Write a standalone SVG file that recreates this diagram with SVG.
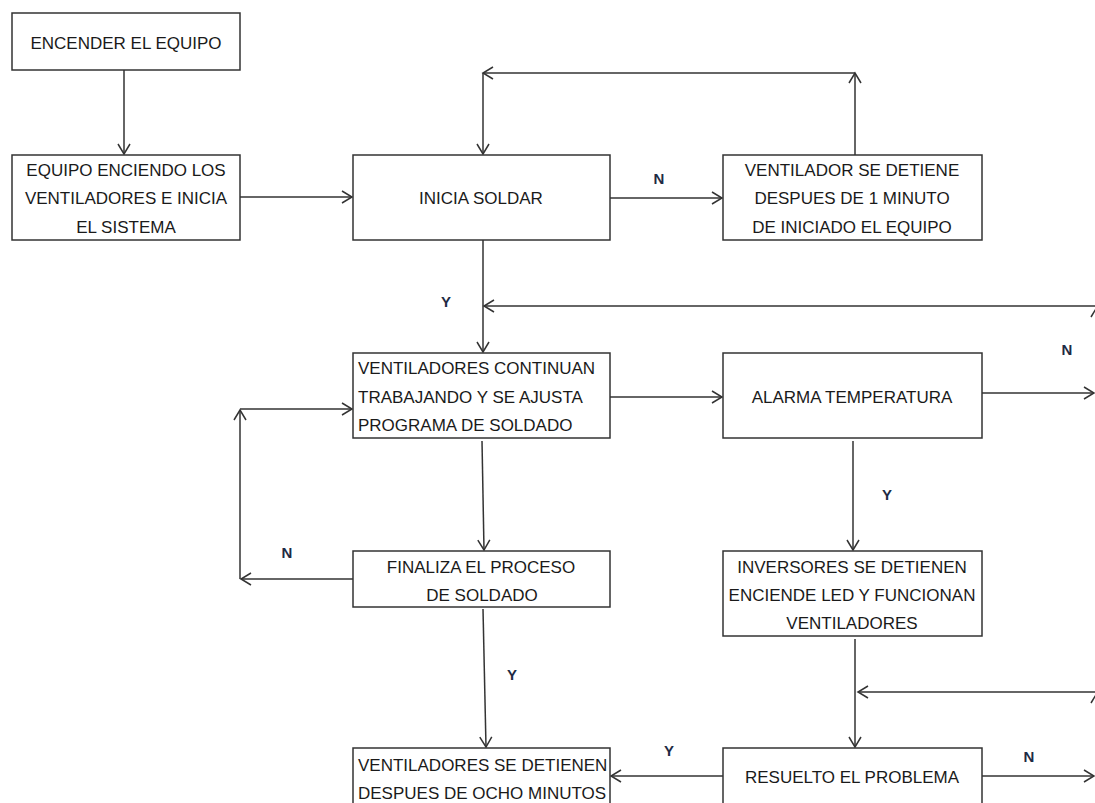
<svg xmlns="http://www.w3.org/2000/svg" width="1095" height="803" viewBox="0 0 1095 803">
<defs>
<style>
.box{fill:#fff;stroke:#333;stroke-width:1.5}
.t{font-family:"Liberation Sans",Arial,sans-serif;font-size:17px;fill:#1a1a1a}
.c{text-anchor:middle}
.lbl{font-family:"Liberation Sans",Arial,sans-serif;font-size:15px;font-weight:bold;fill:#1f2a44;text-anchor:middle}
.ln{fill:none;stroke:#333;stroke-width:1.5;marker-end:url(#ah)}
</style>
<marker id="ah" viewBox="-12 -8 14 16" markerWidth="14" markerHeight="16" refX="0" refY="0" markerUnits="userSpaceOnUse" orient="auto">
<path d="M-10,-6 L0,0 L-10,6" fill="none" stroke="#333" stroke-width="1.5"/>
</marker>
</defs>
<rect width="1095" height="803" fill="#fff"/>
<g id="connectors">
<path class="ln" d="M124,70 L124,154"/>
<path class="ln" d="M240,197 L352,197"/>
<path class="ln" d="M610,198 L722,198"/>
<path class="ln" d="M855,155 L855,73"/>
<path class="ln" d="M855,73 L483,73"/>
<path class="ln" d="M483,73 L483,154"/>
<path class="ln" d="M483,240 L483,352"/>
<path class="ln" d="M1095,306 L484,306"/>
<path class="ln" d="M1097,400 L1097,307"/>
<path class="ln" d="M610,397 L722,397"/>
<path class="ln" d="M982,393 L1094,393"/>
<path class="ln" d="M482,441 L484,550"/>
<path class="ln" d="M853,441 L853,550"/>
<path class="ln" d="M353,579 L241,579"/>
<path class="ln" d="M240,579 L240,410"/>
<path class="ln" d="M240,409 L352,409"/>
<path class="ln" d="M483,609 L486,747"/>
<path class="ln" d="M855,639 L855,747"/>
<path class="ln" d="M1095,692 L858,692"/>
<path class="ln" d="M1097,790 L1097,693"/>
<path class="ln" d="M723,776 L611,776"/>
<path class="ln" d="M982,776 L1094,776"/>
<text class="lbl" x="659" y="184">N</text>
<text class="lbl" x="446" y="307">Y</text>
<text class="lbl" x="1067" y="355">N</text>
<text class="lbl" x="887" y="500">Y</text>
<text class="lbl" x="287" y="558">N</text>
<text class="lbl" x="512" y="680">Y</text>
<text class="lbl" x="669" y="756">Y</text>
<text class="lbl" x="1029" y="762">N</text>
</g>
<g id="n1"><rect class="box" x="12" y="13" width="228" height="57"/><text class="t c" x="126" y="49">ENCENDER EL EQUIPO</text></g>
<g id="n2"><rect class="box" x="12" y="155" width="228" height="85"/>
<text class="t c" x="126" y="176">EQUIPO ENCIENDO LOS</text>
<text class="t c" x="126" y="204">VENTILADORES E INICIA</text>
<text class="t c" x="126" y="233">EL SISTEMA</text></g>
<g id="n3"><rect class="box" x="353" y="155" width="257" height="85"/><text class="t c" x="481" y="204">INICIA SOLDAR</text></g>
<g id="n4"><rect class="box" x="723" y="155" width="259" height="85"/>
<text class="t c" x="852" y="176">VENTILADOR SE DETIENE</text>
<text class="t c" x="852" y="204">DESPUES DE 1 MINUTO</text>
<text class="t c" x="852" y="233">DE INICIADO EL EQUIPO</text></g>
<g id="n5"><rect class="box" x="353" y="353" width="257" height="85"/>
<text class="t" x="358" y="374">VENTILADORES CONTINUAN</text>
<text class="t" x="358" y="403">TRABAJANDO Y SE AJUSTA</text>
<text class="t" x="358" y="431">PROGRAMA DE SOLDADO</text></g>
<g id="n6"><rect class="box" x="723" y="353" width="259" height="85"/><text class="t c" x="852" y="403">ALARMA TEMPERATURA</text></g>
<g id="n7"><rect class="box" x="353" y="551" width="257" height="56"/>
<text class="t c" x="481" y="573">FINALIZA EL PROCESO</text>
<text class="t c" x="482" y="601">DE SOLDADO</text></g>
<g id="n8"><rect class="box" x="723" y="551" width="259" height="85"/>
<text class="t c" x="852" y="573">INVERSORES SE DETIENEN</text>
<text class="t c" x="852" y="601">ENCIENDE LED Y FUNCIONAN</text>
<text class="t c" x="852" y="629">VENTILADORES</text></g>
<g id="n9"><rect class="box" x="353" y="748" width="257" height="70"/>
<text class="t" x="358" y="771">VENTILADORES SE DETIENEN</text>
<text class="t" x="358" y="799">DESPUES DE OCHO MINUTOS</text></g>
<g id="n10"><rect class="box" x="723" y="748" width="259" height="70"/><text class="t c" x="852" y="783">RESUELTO EL PROBLEMA</text></g>
</svg>
